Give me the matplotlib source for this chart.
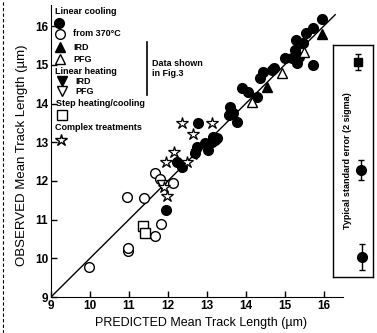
import numpy as np
import matplotlib
matplotlib.use("Agg")
import matplotlib.pyplot as plt
from matplotlib.lines import Line2D

plt.rcParams['font.family'] = ['Liberation Sans', 'DejaVu Sans']
plt.rcParams['font.weight'] = 'bold'

# Linear cooling (filled circles)
lc_x = [11.95, 12.23, 12.36, 12.69, 12.74, 12.77, 12.95, 13.03, 13.13, 13.2, 13.26,
        13.56, 13.59, 13.67, 13.77, 13.9, 14.05, 14.28, 14.36, 14.44, 14.67, 14.74,
        15.0, 15.18, 15.26, 15.31, 15.38, 15.46, 15.3, 15.56, 15.72, 15.95, 15.72, 13.15]
lc_y = [11.25, 12.49, 12.36, 12.72, 12.88, 13.5, 12.98, 12.8, 13.0, 13.06, 13.1,
        13.7, 13.91, 13.75, 13.52, 14.4, 14.3, 14.17, 14.66, 14.81, 14.87, 14.92,
        15.17, 15.17, 15.38, 15.05, 15.2, 15.56, 15.64, 15.82, 15.95, 16.2, 15.0, 13.13]
# Linear cooling from 370 C (open circles)
oc_x = [9.97, 10.97, 10.97, 10.95, 11.38, 11.67, 11.82, 11.67, 11.8, 12.13]
oc_y = [9.78, 10.2, 10.27, 11.58, 11.56, 10.58, 10.89, 12.2, 12.05, 11.94]
# Linear cooling IRD / PFG
ird_c_x = [14.54, 15.95]
ird_c_y = [14.42, 15.8]
pfg_c_x = [14.15, 14.93, 15.51]
pfg_c_y = [14.04, 14.8, 15.33]
# Linear heating IRD / PFG
ird_h_x = [12.33, 12.72]
ird_h_y = [12.35, 12.7]
pfg_h_x = [11.85]
pfg_h_y = [11.9]
# Step heating/cooling
sq_x = [11.36, 11.41]
sq_y = [10.83, 10.65]
# Complex treatments
st_x = [12.36, 13.13, 12.64, 12.15, 11.95, 12.49, 11.9, 11.97]
st_y = [13.5, 13.5, 13.21, 12.75, 12.49, 12.49, 11.84, 11.6]

# typical standard errors (2 sigma) for the key box
err_sig = [0.2, 0.26, 0.34]

fig = plt.figure(figsize=(3.77, 3.33), dpi=100)
ax = fig.add_axes([51/377, 36/333, 292/377, 292/333])

ax.plot([9, 16.3], [9, 16.3], color='black', lw=1.0, zorder=1)

ms = 7
ax.plot(lc_x, lc_y, 'o', ms=ms, mfc='black', mec='black', ls='none')
ax.plot(oc_x, oc_y, 'o', ms=ms, mfc='white', mec='black', mew=1.0, ls='none')
ax.plot(ird_c_x, ird_c_y, '^', ms=ms, mfc='black', mec='black', ls='none')
ax.plot(pfg_c_x, pfg_c_y, '^', ms=ms, mfc='white', mec='black', mew=1.0, ls='none')
ax.plot(ird_h_x, ird_h_y, 'v', ms=ms, mfc='black', mec='black', ls='none')
ax.plot(pfg_h_x, pfg_h_y, 'v', ms=ms, mfc='white', mec='black', mew=1.0, ls='none')
ax.plot(sq_x, sq_y, 's', ms=6.5, mfc='white', mec='black', mew=1.0, ls='none')
ax.plot(st_x, st_y, '*', ms=9, mfc='white', mec='black', mew=0.9, ls='none')

ax.set_xlim(9, 16.5)
ax.set_ylim(9, 16.55)
ax.set_xticks(range(9, 17))
ax.set_yticks(range(9, 17))
ax.spines['top'].set_visible(False)
ax.spines['right'].set_visible(False)
ax.tick_params(direction='in', length=4, width=1, labelsize=8.5, pad=2)
ax.set_xlabel('PREDICTED Mean Track Length (\u00b5m)', fontsize=9)
ax.set_ylabel('OBSERVED Mean Track Length (\u00b5m)', fontsize=9.5)
ax.xaxis.set_label_coords(0.514, -0.067)
ax.yaxis.set_label_coords(-0.08, 0.486)


# key written inside the axes (pixel positions converted to axes fraction)
def fx(px):
    return (px - 51) / 292


def fy(py):
    return (297 - py) / 292


tfs = 6.5
ax.text(fx(55), fy(12), 'Linear cooling', fontsize=tfs, va='center', transform=ax.transAxes)
keys = [
    (59, 23, 'o', 'black', ''),
    (60, 34, 'o', 'white', 'from 370\u00b0C'),
    (60, 47, '^', 'black', 'IRD'),
    (60, 59, '^', 'white', 'PFG'),
    (62, 81, 'v', 'black', 'IRD'),
    (62, 91, 'v', 'white', 'PFG'),
    (62, 115, 's', 'white', ''),
    (61, 140, '*', 'white', ''),
]
for px, py, m, fc, lab in keys:
    size = 9 if m == '*' else (6.5 if m == 's' else ms)
    ax.plot(fx(px), fy(py), m, ms=size, mfc=fc, mec='black', mew=1.0,
            transform=ax.transAxes, clip_on=False)
    if lab:
        ax.text(fx(px + 13), fy(py), lab, fontsize=tfs, va='center', transform=ax.transAxes)
ax.text(fx(55), fy(71), 'Linear heating', fontsize=tfs, va='center', transform=ax.transAxes)
ax.text(fx(56), fy(103), 'Step heating/cooling', fontsize=tfs, va='center', transform=ax.transAxes)
ax.text(fx(55), fy(128), 'Complex treatments', fontsize=tfs, va='center', transform=ax.transAxes)
ax.plot([fx(147), fx(147)], [fy(42), fy(95)], color='black', lw=1.2, transform=ax.transAxes)
ax.text(fx(152), fy(63), 'Data shown', fontsize=tfs, va='center', transform=ax.transAxes)
ax.text(fx(152), fy(74), 'in Fig.3', fontsize=tfs, va='center', transform=ax.transAxes)

# typical standard error box
bx = fig.add_axes([333/377, 56/333, 40/377, 232/333])
bx.set_xlim(0, 1)
bx.set_ylim(0, 232/38.7)
bx.set_xticks([])
bx.set_yticks([])
for s in bx.spines.values():
    s.set_linewidth(1.0)
bx.patch.set_alpha(0)
bx.errorbar([0.625], [215/38.7], yerr=[err_sig[0]], fmt='s', ms=6, color='black', capsize=2, lw=1)
bx.errorbar([0.7], [107/38.7], yerr=[err_sig[1]], fmt='o', ms=7, color='black', capsize=2, lw=1)
bx.errorbar([0.725], [20/38.7], yerr=[err_sig[2]], fmt='o', ms=7, color='black', capsize=2, lw=1)
bx.text(0.36, 0.5, 'Typical standard error (2 sigma)', rotation=90, fontsize=6.5,
        ha='center', va='center', transform=bx.transAxes)

# scan border on the left edge
fig.add_artist(Line2D([3/377, 3/377], [0, 1], color='black', lw=0.8, ls=(0, (3, 2))))

fig.savefig('out.png', dpi=100)
